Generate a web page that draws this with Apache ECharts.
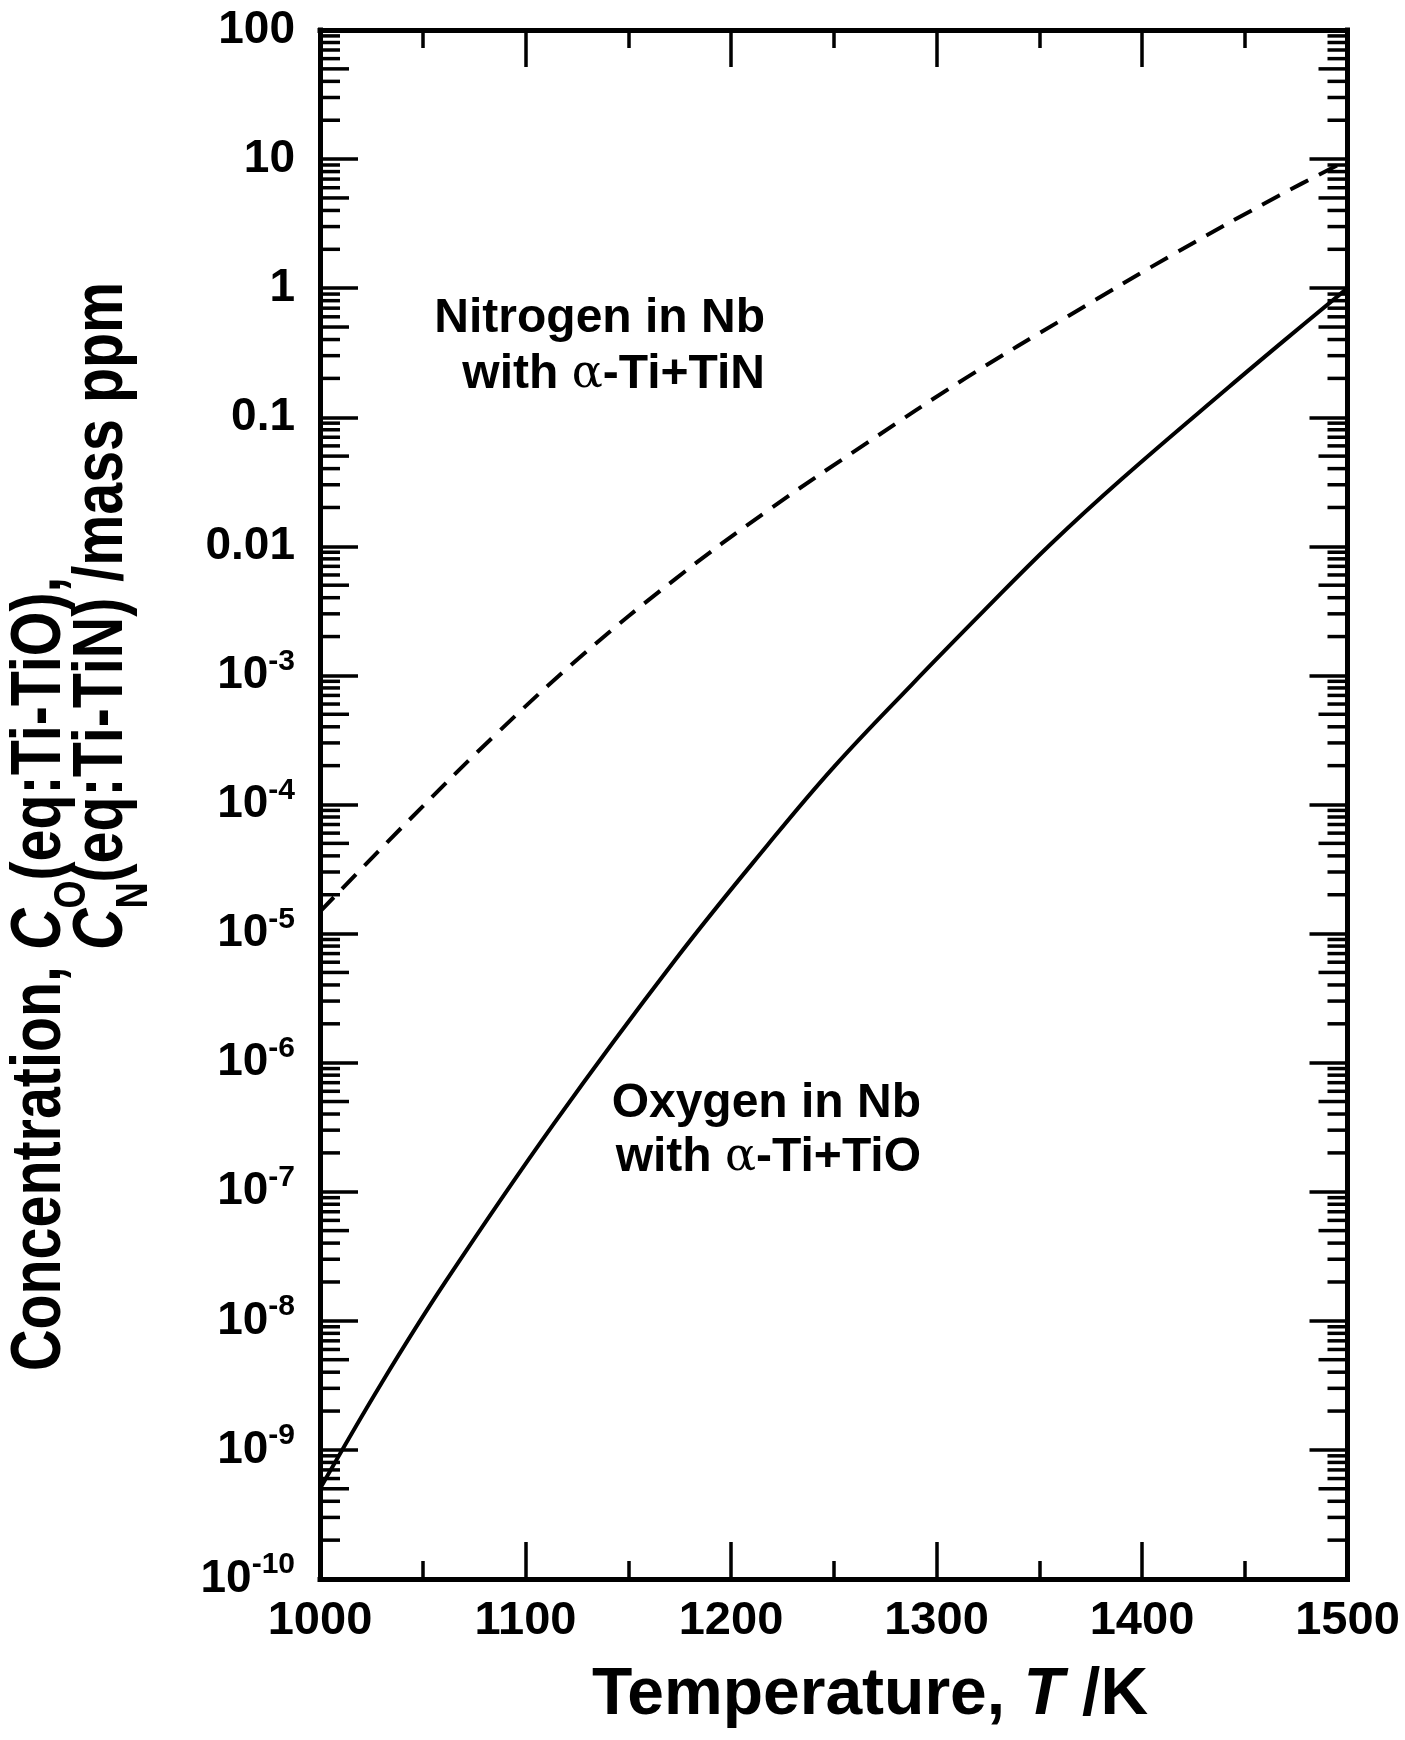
<!DOCTYPE html>
<html>
<head>
<meta charset="utf-8">
<script src="https://cdn.jsdelivr.net/npm/echarts@6/dist/echarts.min.js"></script>
<style>
html,body{margin:0;padding:0;background:#fff;}
#chart{width:1405px;height:1740px;}
</style>
</head>
<body>
<div id="chart"></div>
<script>
// 温度范围 T /K
var xMin = 1000, xMax = 1500;
// 浓度范围 /mass ppm (对数轴)
var yMin = 1e-10, yMax = 100;

// 虚线: Nitrogen in Nb with a-Ti+TiN
var tempN    = [1000, 1042, 1086, 1128, 1173, 1218, 1266, 1314, 1365, 1416, 1467, 1500];
var nitrogen = [1.48e-5, 7.2e-5, 3.55e-4, 1.45e-3, 5.6e-3, 0.019, 0.063, 0.20, 0.62, 1.86, 5.25, 9.8];

// 实线: Oxygen in Nb with a-Ti+TiO
var tempO  = [1000, 1030, 1061, 1114, 1173, 1218, 1250, 1288, 1323, 1355, 1390, 1442, 1470, 1500];
var oxygen = [5.0e-10, 3.3e-9, 2.0e-8, 3.4e-7, 6.3e-6, 4.9e-5, 1.95e-4, 8.5e-4, 3.16e-3, 0.0102, 0.0331, 0.170, 0.403, 1.0];

// y轴刻度标签 (指数 -> 文本)
var yExps   = [2, 1, 0, -1, -2, -3, -4, -5, -6, -7, -8, -9, -10];
var yLabels = ['100', '10', '1', '0.1', '0.01', '10^-3', '10^-4', '10^-5', '10^-6', '10^-7', '10^-8', '10^-9', '10^-10'];
// 次刻度 (每个十进位内的 2..9)
var minorMantissa = [2, 3, 4, 5, 6, 7, 8, 9];
var minorDecades  = [-10, -9, -8, -7, -6, -5, -4, -3, -2, -1, 0, 1];

var FONT = '"Liberation Sans", Arial, Helvetica, sans-serif';
var SERIF = '"DejaVu Serif", "Liberation Serif", serif';

function zip(xs, ys) {
	var out = [];
	for (var i = 0; i < xs.length; ++i) out.push([xs[i], ys[i]]);
	return out;
}

var yMinor = [];
for (var d = 0; d < minorDecades.length; ++d) {
	for (var m = 0; m < minorMantissa.length; ++m) {
		yMinor.push({value: [xMin, minorMantissa[m] * Math.pow(10, minorDecades[d])], mant: minorMantissa[m]});
	}
}

function yLabelFmt(v) {
	var e = Math.round(Math.log10(v));
	var idx = yExps.indexOf(e);
	if (idx < 0) return '';
	var s = yLabels[idx];
	var p = s.indexOf('^');
	if (p < 0) return '{b|' + s + '}';
	return '{b|' + s.substring(0, p) + '}{s|' + s.substring(p + 1) + '}';
}

// 纵轴标题: 逐段排版 (含下标), 文字从下往上写
var measureCtx = document.createElement('canvas').getContext('2d');
function fontStr(size, italic) {
	return (italic ? 'italic ' : '') + 'bold ' + size + 'px ' + FONT;
}
function vLine(x, yStart, segs, scale) {
	var out = [];
	var y = yStart;
	for (var i = 0; i < segs.length; ++i) {
		var s = segs[i];
		var f = fontStr(s.size, s.italic);
		measureCtx.font = f;
		var w = measureCtx.measureText(s.t).width * scale;
		out.push({
			type: 'text', x: x + (s.dx || 0), y: y, rotation: Math.PI / 2, scaleX: scale, silent: true,
			style: {text: s.t, fill: '#000', align: 'left', verticalAlign: 'middle', font: f}
		});
		y -= w;
	}
	return out;
}
var TITLE_SIZE = 70, SUB_SIZE = 44, TITLE_SCALE = 0.82;
var titleLine1 = vLine(41, 1371, [
	{t: 'Concentration, ', size: TITLE_SIZE},
	{t: 'C', size: TITLE_SIZE, italic: true},
	{t: 'O', size: SUB_SIZE, dx: 32},
	{t: '(eq:Ti-TiO),', size: TITLE_SIZE}
], TITLE_SCALE);
// 第二行的 C_N 对齐第一行的 C_O
measureCtx.font = fontStr(TITLE_SIZE, false);
var line2Start = 1371 - measureCtx.measureText('Concentration, ').width * TITLE_SCALE;
var titleLine2 = vLine(103, line2Start, [
	{t: 'C', size: TITLE_SIZE, italic: true},
	{t: 'N', size: SUB_SIZE, dx: 32},
	{t: '(eq:Ti-TiN) /mass ppm', size: TITLE_SIZE}
], TITLE_SCALE);

var chart = echarts.init(document.getElementById('chart'), null, {renderer: 'canvas'});

var axisLineStyle = {color: '#000', width: 5, cap: 'square'};
var tickStyle = {color: '#000', width: 3.5};

var xAxisBase = {
	type: 'value', min: xMin, max: xMax, interval: 100,
	axisLine: {show: true, onZero: false, lineStyle: axisLineStyle},
	axisTick: {show: true, inside: true, length: 37, lineStyle: tickStyle},
	minorTick: {show: true, splitNumber: 2, length: 18, lineStyle: tickStyle},
	splitLine: {show: false},
	minorSplitLine: {show: false}
};
var yAxisBase = {
	type: 'log', logBase: 10, min: yMin, max: yMax, interval: 1, splitNumber: 12,
	axisLine: {show: true, onZero: false, lineStyle: axisLineStyle},
	axisTick: {show: true, inside: true, length: 38, lineStyle: tickStyle},
	splitLine: {show: false},
	minorSplitLine: {show: false}
};

var option = {
	backgroundColor: '#fff',
	animation: false,
	grid: {left: 320, right: 57.5, top: 30, bottom: 161, containLabel: false},
	xAxis: [
		echarts.util.merge({
			position: 'bottom',
			axisLabel: {
				show: true, margin: 19, fontSize: 47, fontWeight: 'bold', color: '#000', fontFamily: FONT,
				formatter: function(v) { return String(v); }
			}
		}, xAxisBase, true),
		echarts.util.merge({position: 'top', axisLabel: {show: false}}, xAxisBase, true)
	],
	yAxis: [
		echarts.util.merge({
			position: 'left',
			axisLabel: {
				show: true, margin: 25, color: '#000',
				formatter: yLabelFmt,
				rich: {
					b: {fontSize: 46, fontWeight: 'bold', fontFamily: FONT, color: '#000', lineHeight: 58},
					s: {fontSize: 30, fontWeight: 'bold', fontFamily: FONT, color: '#000', lineHeight: 18, verticalAlign: 'top'}
				}
			}
		}, yAxisBase, true),
		echarts.util.merge({position: 'right', axisLabel: {show: false}}, yAxisBase, true)
	],
	series: [
		{
			name: 'Nitrogen', type: 'line', xAxisIndex: 0, yAxisIndex: 0,
			data: zip(tempN, nitrogen), showSymbol: false, smooth: 0.4,
			lineStyle: {color: '#000', width: 4, type: [20, 12]}
		},
		{
			name: 'Oxygen', type: 'line', xAxisIndex: 0, yAxisIndex: 0,
			data: zip(tempO, oxygen), showSymbol: false, smooth: 0.4,
			lineStyle: {color: '#000', width: 4}
		},
		{
			// 对数轴次刻度 (左右两侧)
			type: 'custom', xAxisIndex: 0, yAxisIndex: 0, silent: true, clip: false,
			data: yMinor,
			renderItem: function(params, api) {
				var v = api.value(1);
				var mant = yMinor[params.dataIndex].mant;
				var len = mant === 5 ? 29 : 20;
				var pl = api.coord([xMin, v]);
				var pr = api.coord([xMax, v]);
				return {type: 'group', children: [
					{type: 'line', shape: {x1: pl[0], y1: pl[1], x2: pl[0] + len, y2: pl[1]}, style: {stroke: '#000', lineWidth: 3.5}},
					{type: 'line', shape: {x1: pr[0] - len, y1: pr[1], x2: pr[0], y2: pr[1]}, style: {stroke: '#000', lineWidth: 3.5}}
				]};
			}
		}
	],
	graphic: [
		{
			type: 'text', x: 765, y: 291, silent: true,
			style: {
				text: '{b|Nitrogen in Nb}\n{b|with }{a|α}{b|-Ti+TiN}',
				align: 'right',
				rich: {
					b: {fontSize: 48, fontWeight: 'bold', fontFamily: FONT, fill: '#000', lineHeight: 56},
					a: {fontSize: 46, fontFamily: SERIF, fill: '#000', lineHeight: 56}
				}
			}
		},
		{
			type: 'text', x: 921, y: 1077, silent: true,
			style: {
				text: '{b|Oxygen in Nb}\n{b|with }{a|α}{b|-Ti+TiO}',
				align: 'right',
				rich: {
					b: {fontSize: 48, fontWeight: 'bold', fontFamily: FONT, fill: '#000', lineHeight: 54},
					a: {fontSize: 46, fontFamily: SERIF, fill: '#000', lineHeight: 54}
				}
			}
		},
		{
			// x轴标题
			type: 'text', x: 870, y: 1696, silent: true,
			style: {
				text: '{b|Temperature, }{i|T}{b| /K}',
				align: 'center', verticalAlign: 'middle',
				rich: {
					b: {fontSize: 66, fontWeight: 'bold', fontFamily: FONT, fill: '#000'},
					i: {fontSize: 66, fontWeight: 'bold', fontStyle: 'italic', fontFamily: FONT, fill: '#000'}
				}
			}
		}
	].concat(titleLine1, titleLine2)
};

chart.setOption(option);
</script>
</body>
</html>
